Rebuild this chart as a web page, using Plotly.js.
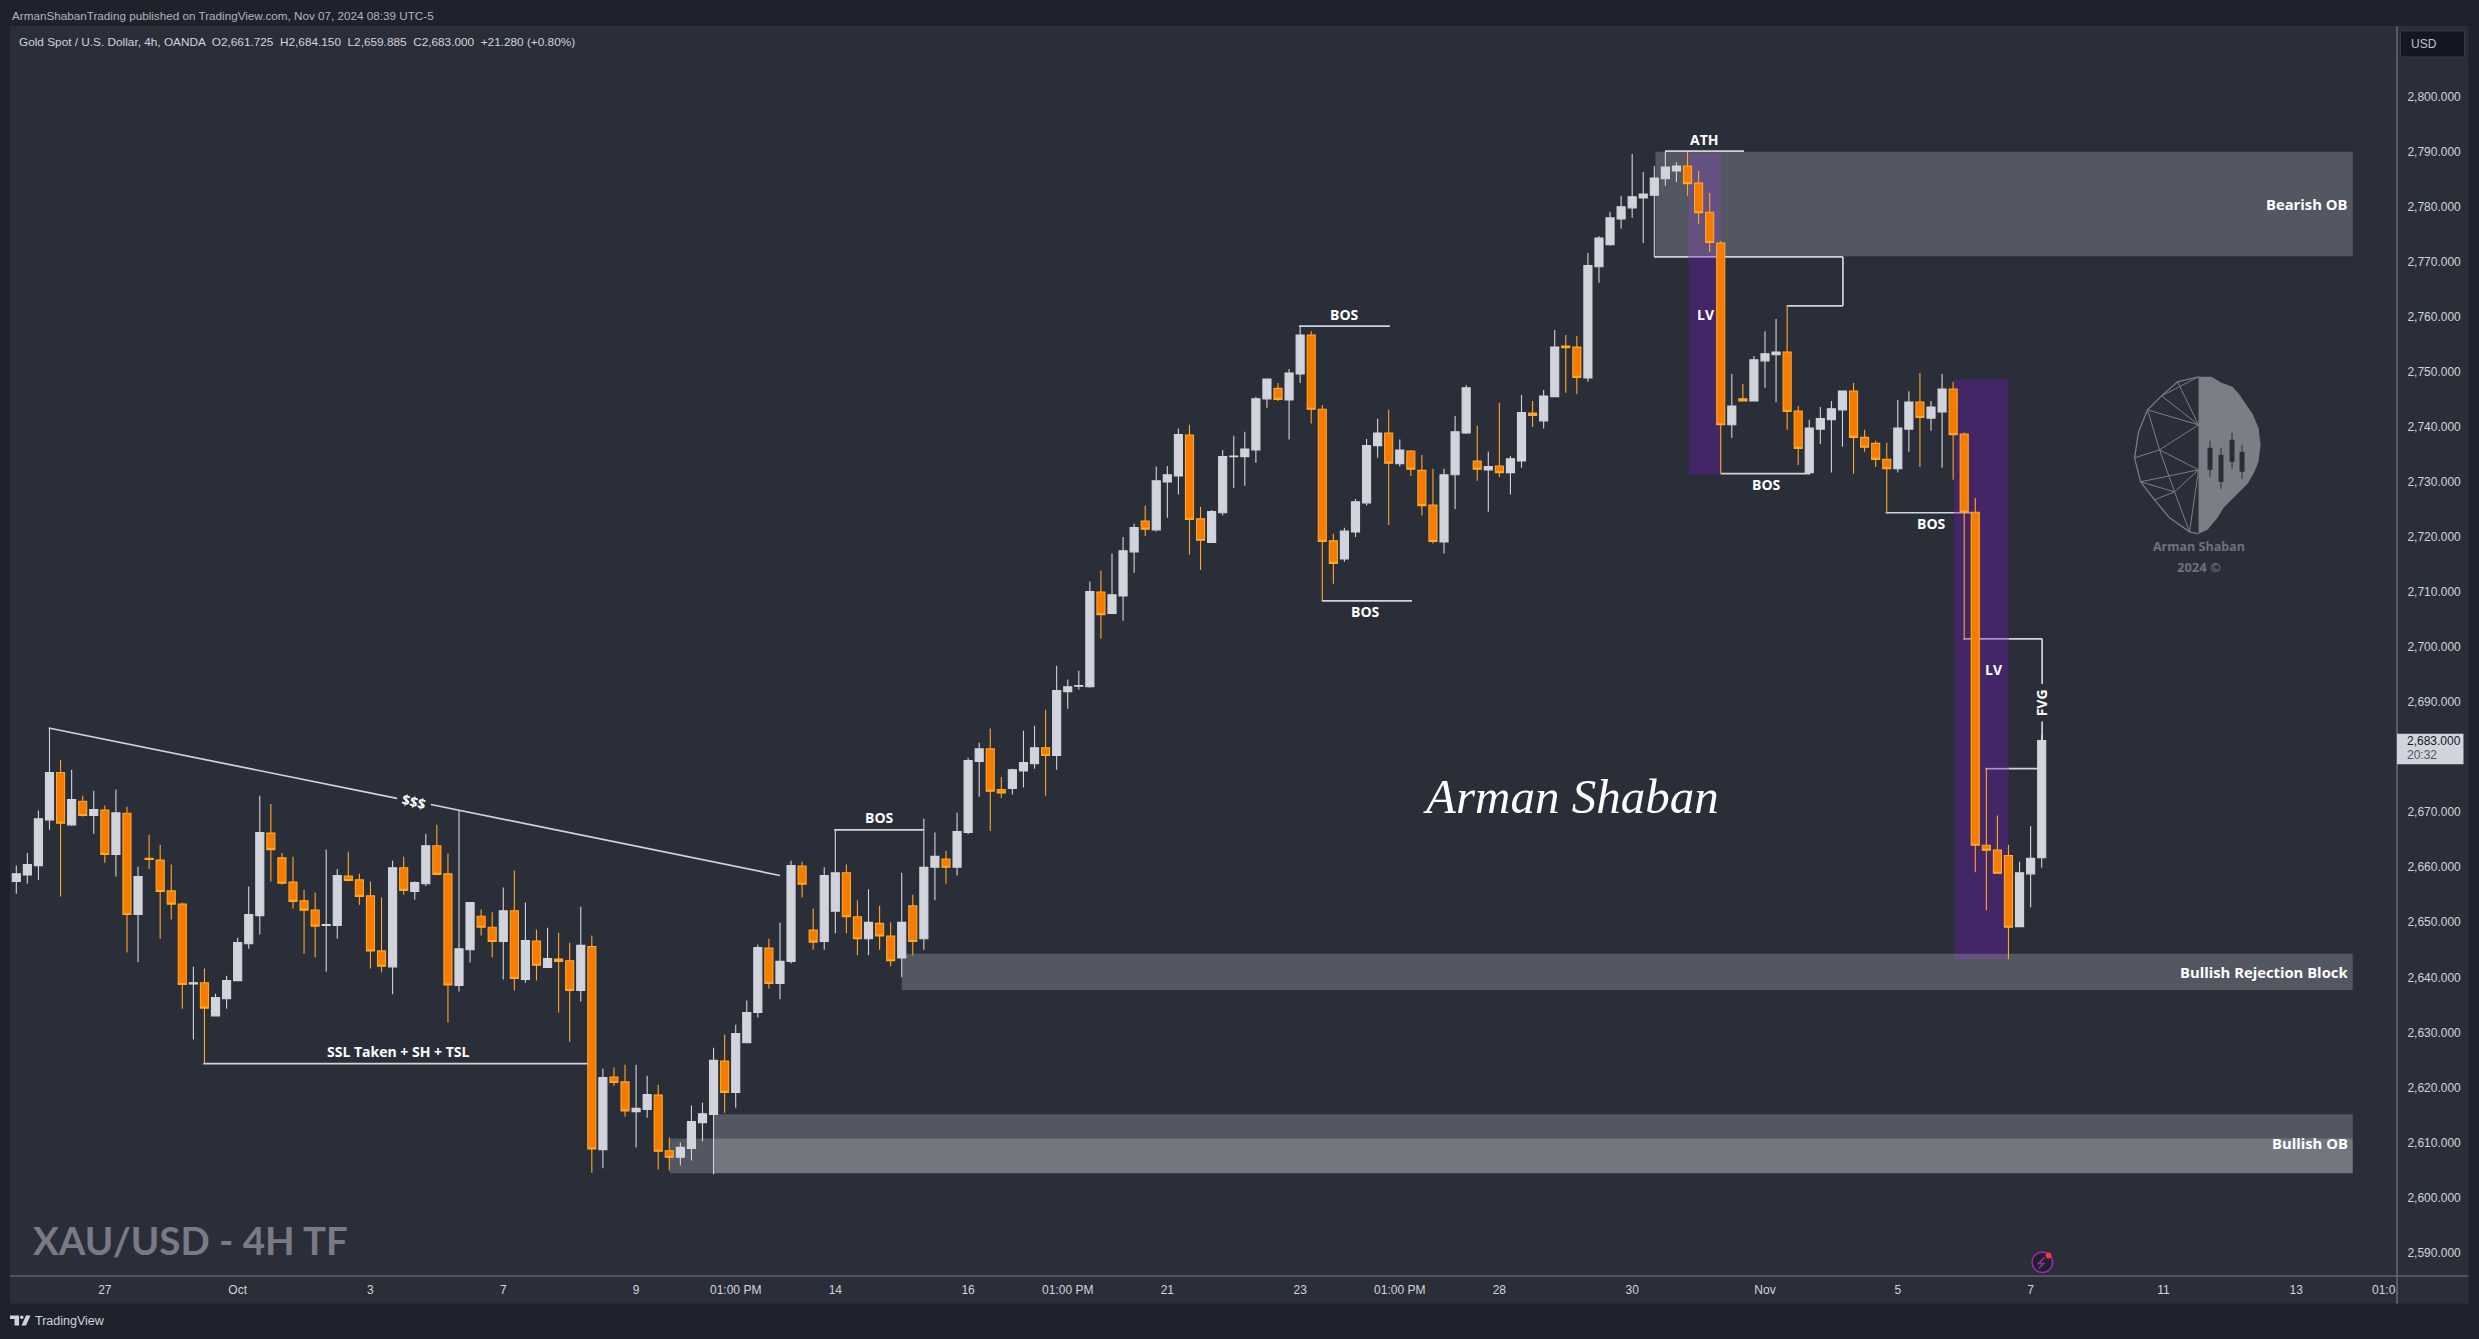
<!DOCTYPE html>
<html>
<head>
<meta charset="utf-8">
<script src="https://cdn.plot.ly/plotly-3.0.1.min.js"></script>
<style>html,body{margin:0;padding:0;background:#1e222d;overflow:hidden}#c{width:2479px;height:1339px}</style>
</head>
<body>
<div id="c"></div>
<script>
// ---- chart values (USD per ounce, one candle every 4h) ----
const open = [2657.4,2658.6,2660.3,2668.6,2677.2,2667.7,2672.0,2669.4,2670.4,2662.3,2669.8,2651.4,2661.6,2661.3,2655.7,2653.3,2638.8,2639.0,2633.0,2636.1,
2639.4,2646.1,2651.2,2666.2,2661.7,2657.3,2653.9,2652.2,2649.4,2649.4,2658.4,2657.7,2654.8,2644.8,2641.9,2659.9,2655.6,2657.0,2663.9,2658.8,
2638.5,2645.0,2651.1,2649.1,2646.5,2652.1,2639.6,2646.6,2641.8,2643.3,2643.0,2637.6,2645.6,2608.7,2621.9,2621.0,2615.6,2616.0,2618.6,2608.5,
2607.3,2608.9,2613.6,2615.1,2624.8,2619.1,2628.1,2633.6,2645.3,2638.9,2642.9,2660.2,2648.6,2646.5,2652.0,2659.0,2651.0,2647.0,2649.8,2647.5,
2643.5,2653.0,2647.0,2660.0,2661.5,2660.0,2666.3,2679.2,2681.5,2674.1,2674.3,2677.5,2678.8,2681.7,2680.3,2691.9,2692.9,2692.8,2710.0,2706.1,
2709.3,2717.3,2722.9,2721.3,2730.0,2731.1,2738.5,2723.3,2719.0,2724.4,2734.6,2734.6,2735.8,2745.1,2747.0,2744.9,2749.6,2756.7,2743.2,2719.3,
2716.0,2720.9,2726.2,2736.6,2738.9,2733.3,2735.6,2732.1,2725.8,2719.1,2731.3,2738.9,2733.8,2732.2,2732.9,2731.7,2733.8,2742.5,2741.1,2745.5,
2754.7,2754.5,2748.9,2769.1,2773.1,2777.8,2779.8,2781.6,2782.1,2785.1,2786.5,2787.4,2784.3,2779.0,2773.4,2740.4,2745.1,2744.7,2752.0,2753.1,
2753.6,2742.9,2731.7,2739.6,2741.3,2743.1,2746.5,2738.1,2737.0,2734.1,2732.4,2739.6,2744.5,2741.6,2742.7,2746.9,2738.7,2724.5,2664.0,2663.1,
2662.1,2649.2,2658.8,2661.725];
const high = [2660.3,2662.6,2670.3,2685.3,2679.5,2677.7,2673.0,2673.9,2671.2,2674.1,2671.0,2660.1,2665.9,2664.1,2660.5,2653.6,2641.9,2641.6,2637.0,2640.3,
2647.2,2656.5,2673.0,2671.5,2662.6,2661.9,2655.9,2655.4,2663.2,2659.7,2662.8,2658.8,2657.4,2654.5,2661.2,2661.9,2657.4,2666.1,2667.7,2662.5,
2670.2,2653.7,2652.3,2651.8,2656.3,2659.4,2653.6,2648.7,2649.0,2648.1,2646.3,2652.8,2647.6,2623.4,2623.6,2624.1,2624.1,2622.1,2620.5,2610.9,
2610.0,2616.7,2617.2,2627.2,2629.6,2631.4,2635.8,2645.9,2647.0,2649.9,2661.2,2661.0,2652.5,2660.0,2666.8,2660.5,2654.0,2656.0,2653.0,2650.0,
2659.0,2655.0,2668.8,2666.3,2663.0,2669.9,2679.9,2682.6,2685.2,2676.4,2677.9,2684.8,2685.7,2688.6,2696.6,2694.1,2695.7,2711.9,2713.9,2717.0,
2720.0,2722.4,2725.7,2732.8,2732.9,2739.7,2740.4,2725.5,2724.9,2735.8,2738.4,2739.1,2745.5,2748.7,2748.0,2750.5,2758.2,2757.4,2744.0,2720.6,
2721.7,2726.9,2737.8,2741.5,2743.1,2737.7,2735.8,2734.9,2732.4,2732.4,2742.0,2747.6,2740.2,2735.5,2744.4,2734.7,2745.8,2744.7,2746.7,2757.6,
2756.7,2756.5,2771.6,2774.7,2779.1,2782.0,2789.6,2786.3,2787.4,2790.0,2788.1,2790.0,2786.5,2782.5,2773.8,2749.6,2747.8,2752.9,2757.4,2759.6,
2762.0,2743.8,2741.3,2743.6,2744.7,2746.5,2748.0,2739.5,2737.5,2737.1,2744.9,2746.5,2749.8,2744.7,2749.6,2748.2,2739.0,2727.1,2677.9,2669.4,
2664.1,2661.0,2667.5,2684.15];
const low = [2655.2,2657.0,2657.7,2666.8,2654.7,2667.5,2669.2,2666.1,2660.8,2658.3,2644.5,2642.8,2659.7,2647.0,2650.5,2634.3,2628.7,2624.4,2633.0,2634.3,
2639.4,2645.2,2647.8,2657.4,2656.8,2652.5,2644.3,2643.6,2641.0,2647.0,2657.4,2653.2,2641.6,2640.9,2636.9,2655.0,2654.1,2656.6,2658.7,2631.8,
2637.4,2642.7,2647.6,2643.6,2639.6,2637.6,2639.0,2639.4,2641.8,2633.6,2628.3,2635.6,2604.5,2605.3,2620.3,2614.7,2609.1,2614.5,2605.1,2604.9,
2605.8,2606.7,2610.2,2604.2,2615.4,2616.3,2628.0,2632.7,2637.9,2636.0,2642.5,2654.5,2645.0,2645.0,2648.0,2648.0,2644.0,2644.0,2645.0,2642.0,
2640.0,2644.0,2645.0,2654.0,2657.0,2658.5,2666.0,2672.8,2666.6,2672.6,2673.2,2674.5,2677.9,2673.0,2677.7,2688.8,2692.3,2692.6,2701.5,2706.1,
2704.8,2713.5,2720.2,2721.0,2723.5,2727.7,2716.8,2714.0,2719.0,2723.9,2728.9,2729.3,2733.5,2743.5,2744.7,2737.7,2748.0,2740.6,2708.4,2711.5,
2715.5,2720.0,2725.7,2734.4,2722.2,2732.8,2731.1,2723.9,2718.8,2717.0,2725.1,2738.7,2730.2,2724.6,2730.9,2727.7,2732.6,2740.0,2739.7,2745.5,
2746.2,2746.0,2748.2,2766.2,2772.9,2776.0,2778.0,2773.4,2770.9,2783.8,2784.5,2782.0,2776.9,2771.8,2731.6,2738.0,2744.7,2744.7,2747.1,2744.5,
2739.5,2733.1,2731.7,2736.9,2731.7,2736.4,2731.5,2735.5,2732.7,2724.3,2731.7,2735.5,2732.7,2739.3,2732.6,2730.4,2701.3,2659.1,2652.2,2658.9,
2643.3,2649.2,2652.7,2659.885];
const close = [2658.8,2660.5,2668.8,2677.2,2668.0,2672.3,2669.4,2670.5,2662.3,2669.9,2651.4,2658.3,2661.4,2655.6,2653.3,2638.7,2639.0,2634.4,2636.3,2639.4,
2646.3,2651.4,2666.3,2663.2,2657.1,2653.8,2652.2,2649.3,2649.6,2658.5,2657.6,2654.7,2644.8,2642.0,2659.9,2655.8,2657.2,2663.9,2658.7,2638.6,
2645.2,2653.6,2649.1,2646.5,2652.1,2639.8,2646.7,2642.2,2643.4,2642.9,2637.6,2645.8,2608.8,2621.8,2620.9,2615.7,2616.2,2618.7,2608.4,2607.3,
2609.1,2613.8,2615.2,2624.9,2619.1,2629.8,2633.6,2645.4,2638.9,2642.9,2660.3,2656.9,2646.4,2658.5,2659.0,2651.0,2647.0,2650.0,2647.5,2643.0,
2650.0,2646.5,2660.0,2662.0,2660.0,2666.5,2679.4,2681.5,2673.8,2673.5,2677.7,2679.0,2681.7,2680.3,2692.1,2692.8,2693.0,2710.1,2705.9,2709.5,
2717.5,2721.7,2721.4,2730.2,2731.3,2738.6,2723.2,2719.4,2724.6,2734.6,2734.7,2736.0,2745.1,2748.7,2745.0,2749.8,2756.7,2743.2,2719.2,2715.2,
2721.1,2726.4,2736.6,2738.9,2733.4,2735.8,2732.3,2725.7,2719.2,2731.3,2739.1,2747.1,2732.3,2732.8,2731.7,2734.2,2742.6,2742.1,2745.6,2754.5,
2754.4,2749.0,2769.3,2774.3,2778.0,2780.0,2781.8,2782.3,2785.2,2787.2,2787.4,2784.2,2778.9,2773.5,2740.4,2743.8,2744.7,2752.2,2753.3,2753.6,
2742.8,2736.1,2739.8,2741.5,2743.3,2746.5,2738.1,2736.3,2734.1,2732.4,2739.8,2744.5,2741.7,2743.6,2746.9,2738.6,2724.5,2664.0,2663.1,2658.9,
2649.1,2659.0,2661.6,2683.0];
const candleIndex = open.map((_, i) => i);

const priceTicks = [2800,2790,2780,2770,2760,2750,2740,2730,2720,2710,2700,2690,2670,2660,2650,2640,2630,2620,2610,2600,2590];
const priceTickLabels = priceTicks.map(v => v.toLocaleString('en-US',{minimumFractionDigits:3}));
const timeTickIndex = [8,20,32,44,56,65,74,86,95,104,116,125,134,146,158,170,182,194,206,213.9];
const timeTickLabels = ['27','Oct','3','7','9','01:00 PM','14','16','01:00 PM','21','23','01:00 PM','28','30','Nov','5','7','11','13','01:0'];

// analyst drawings: [x0, price0, x1, price1]
const drawnLines = [
 [2.93,2685.3,34.4,2672.5],[37.46,2671.4,69,2658.5],
 [16.9,2624.3,51.7,2624.3],
 [73.9,2666.8,82,2666.8],[115.9,2758.3,124.1,2758.3],[117.95,2708.4,126.1,2708.4],
 [148.96,2790.1,156.1,2790.1],
 [147.97,2770.9,165.04,2770.9],[165.04,2770.9,165.04,2762],[165.04,2762,159.98,2762],
 [153.93,2731.5,162.1,2731.5],[168.9,2724.4,176.6,2724.4],
 [175.95,2701.5,183.04,2701.5],[183.04,2701.5,183.04,2693.3],[183.04,2686.5,183.04,2683],
 [177.9,2677.9,183,2677.9]
];
const purpleZones = [[151.1,2789.6,154,2731.3],[175.1,2748.7,180,2643.3]];
const tintedLines = [[151.1,2770.9,154,2770.9],[175.1,2724.4,176.6,2724.4],[175.95,2701.5,180,2701.5],[177.9,2677.9,180,2677.9]];
const grayZones = [[148.1,2790,211.1,2771],[80,2644.3,211.1,2637.7],[63.05,2615.1,211.1,2604.4],[59.05,2610.7,211.1,2604.4]];
const chartLabels = [
 ['BOS',78,2669],['BOS',120,2760.5],['BOS',121.9,2706.4],['ATH',152.5,2792.3],['BOS',158.1,2729.5],['BOS',173,2722.4],
 ['LV',152.7,2760.5],['LV',178.7,2696],['SSL Taken + SH + TSL',34.5,2626.5]
];
const zoneLabels = [['Bearish OB',210.9,2780.5],['Bullish Rejection Block',210.9,2641],['Bullish OB',210.9,2609.9]];

// ---- page geometry ----
const W=2479,H=1339,L=10,R=2397.5,T=26,B=1276.5;
const px=v=>(v-L)/(R-L), py=v=>1-(v-T)/(B-T);
const LINE='#d1d4dc', PANEL='#2a2e39', OUTER='#1e222d', AXIS='#787b86';

const shapes=[];
const rectPx=(x0,y0,x1,y1,fill,line,layer)=>shapes.push({type:'rect',xref:'paper',yref:'paper',x0:px(x0),x1:px(x1),y0:py(y0),y1:py(y1),fillcolor:fill,line:line||{width:0},layer:layer||'below'});
const linePx=(x0,y0,x1,y1,color,w,layer)=>shapes.push({type:'line',xref:'paper',yref:'paper',x0:px(x0),x1:px(x1),y0:py(y0),y1:py(y1),line:{color:color,width:w},layer:layer||'below'});
const pathPx=(pts,fill,color,w,layer,closed)=>shapes.push({type:'path',xref:'paper',yref:'paper',
  path:'M'+pts.map(p=>px(p[0])+' '+py(p[1])).join(' L')+(closed?' Z':''),fillcolor:fill||'rgba(0,0,0,0)',line:color?{color:color,width:w}:{width:0},layer:layer||'below'});
rectPx(L,T,2469,1304,PANEL);

drawnLines.forEach(l=>shapes.push({type:'line',xref:'x',yref:'y',x0:l[0],y0:l[1],x1:l[2],y1:l[3],line:{color:LINE,width:1.7},layer:'below'}));
purpleZones.forEach(z=>shapes.push({type:'rect',xref:'x',yref:'y',x0:z[0],y0:z[1],x1:z[2],y1:z[3],fillcolor:'#432666',line:{width:0},layer:'below'}));
tintedLines.forEach(l=>shapes.push({type:'line',xref:'x',yref:'y',x0:l[0],y0:l[1],x1:l[2],y1:l[3],line:{color:'rgba(190,160,225,0.85)',width:1.7},layer:'below'}));
grayZones.forEach(z=>shapes.push({type:'rect',xref:'x',yref:'y',x0:z[0],y0:z[1],x1:z[2],y1:z[3],fillcolor:'rgba(209,212,220,0.25)',line:{width:0},layer:'below'}));

// axis borders
linePx(R,T,R,1304,AXIS,1.2,'above');
linePx(L,B,2469,B,AXIS,1.2,'above');
// USD badge
rectPx(2401,31,2465,57,'#131722',{color:'#363a45',width:1},'above');
// last price tag
rectPx(R,734,2464,764.5,'#d1d4dc',{width:0},'above');
// event icon
shapes.push({type:'circle',xref:'paper',yref:'paper',x0:px(2032.5),x1:px(2053),y0:py(1252.5),y1:py(1273),line:{color:'#9c27b0',width:1.6},fillcolor:'#1e222d',layer:'above'});
pathPx([[2045,1258],[2039,1264],[2044,1264],[2039,1269]],null,'#9c27b0',1.6,'above');
shapes.push({type:'circle',xref:'paper',yref:'paper',x0:px(2046),x1:px(2052),y0:py(1253),y1:py(1259),line:{width:0},fillcolor:'#f23645',layer:'above'});
// TradingView mark
pathPx([[10,1316],[19,1316],[19,1326],[14.5,1326],[14.5,1319.5],[10,1319.5]],'#d1d4dc',null,0,'above',true);
shapes.push({type:'circle',xref:'paper',yref:'paper',x0:px(20),x1:px(23.5),y0:py(1316),y1:py(1319.5),line:{width:0},fillcolor:'#d1d4dc',layer:'above'});
pathPx([[26,1316],[30.5,1316],[26,1326],[21.5,1326]],'#d1d4dc',null,0,'above',true);
// brain logo: left wireframe, right solid
const BR='#7b7e87';
pathPx([[2199,377],[2212,377],[2222,383],[2233,387],[2240,395],[2246,404],[2253,414],[2259,428],[2261,445],[2259,462],[2254,474],[2248,484],[2240,492],[2232,500],[2224,508],[2218,518],[2208,530],[2199,534]],BR,null,0,'below',true);
pathPx([[2199,377],[2178,382],[2162,396],[2148,410],[2139,432],[2135,458],[2141,482],[2155,500],[2170,518],[2190,532],[2199,534]],null,BR,1.3);
[[[2199,377],[2162,396],[2199,425],[2148,410],[2160,450],[2135,458]],[[2199,425],[2160,450],[2199,470],[2141,482],[2175,492],[2199,470]],[[2175,492],[2155,500]],[[2175,492],[2190,532]],[[2178,382],[2199,425]],[[2160,450],[2175,492]],[[2199,470],[2190,532]]].forEach(p=>pathPx(p,null,BR,1));
[[2208,448,2213,470],[2219,455,2224,482],[2230,440,2235,462],[2240,452,2245,472]].forEach(c=>{rectPx(c[0],c[1],c[2],c[3],'#2a2e39');linePx((c[0]+c[2])/2,c[1]-7,(c[0]+c[2])/2,c[3]+7,'#2a2e39',1);});

const textPx=(t,x,y,o)=>Object.assign({text:t,xref:'paper',yref:'paper',x:px(x),y:py(y),showarrow:false,xanchor:'left',yanchor:'middle',font:{family:'Liberation Sans',size:12,color:'#d1d4dc'}},o||{});
const OS='Open Sans';
const annotations=[
 textPx('ArmanShabanTrading published on TradingView.com, Nov 07, 2024 08:39 UTC-5',10,15,{font:{family:'Liberation Sans',size:11.7,color:'#b2b5be'}}),
 textPx('Gold Spot / U.S. Dollar, 4h, OANDA  O2,661.725  H2,684.150  L2,659.885  C2,683.000  +21.280 (+0.80%)',17,42,{font:{family:'Liberation Sans',size:11.8,color:'#d1d4dc'}}),
 textPx('USD',2410,44,{font:{family:'Liberation Sans',size:12,color:'#c0c3cc'}}),
 textPx('2,683.000',2406,741,{font:{family:'Liberation Sans',size:12,color:'#131722'}}),
 textPx('20:32',2406,755.5,{font:{family:'Liberation Sans',size:12,color:'#50535e'}}),
 textPx('XAU/USD - 4H TF',31,1240,{font:{family:'Lato',size:38.5,weight:700,color:'#787b86'}}),
 textPx('TradingView',33,1322,{font:{family:'Liberation Sans',size:12.5,color:'#d1d4dc'}}),
 textPx('Arman Shaban',1421,797,{font:{family:'Liberation Serif',size:49,style:'italic',color:'#ffffff'}}),
 textPx('Arman Shaban',2199,547,{xanchor:'center',font:{family:OS,size:12.5,weight:700,color:'#6f727c'}}),
 textPx('2024 ©',2199,567,{xanchor:'center',font:{family:OS,size:13,weight:700,color:'#6f727c'}}),
 {text:'$$$',xref:'x',yref:'y',x:35.9,y:2672,showarrow:false,textangle:13.6,font:{family:OS,size:14,weight:700,color:'#fff'}},
 {text:'FVG',xref:'x',yref:'y',x:183,y:2689.9,showarrow:false,textangle:-90,font:{family:OS,size:14,weight:700,color:'#fff'}}
];
chartLabels.forEach(a=>annotations.push({text:a[0],xref:'x',yref:'y',x:a[1],y:a[2],showarrow:false,font:{family:OS,size:14,weight:700,color:'#fff'}}));
zoneLabels.forEach(a=>annotations.push({text:a[0],xref:'x',yref:'y',x:a[1],y:a[2],xanchor:'right',showarrow:false,font:{family:OS,size:14.8,weight:700,color:'#fff'}}));

const trace={type:'candlestick',x:candleIndex,open:open,high:high,low:low,close:close,whiskerwidth:0,hoverinfo:'skip',
 increasing:{line:{color:'#d1d4dc',width:1.1},fillcolor:'#d1d4dc'},
 decreasing:{line:{color:'#ffa726',width:1.1},fillcolor:'#f57c00'}};

const layout={width:W,height:H,margin:{l:L,r:W-R,t:T,b:H-B,pad:0},paper_bgcolor:OUTER,plot_bgcolor:PANEL,showlegend:false,boxgap:0.27,boxgroupgap:0,
 hovermode:false,dragmode:false,shapes:shapes,annotations:annotations,
 xaxis:{type:'linear',range:[(L-16.3)/11.07,(R-16.3)/11.07],fixedrange:true,rangeslider:{visible:false},showgrid:false,zeroline:false,showline:false,
  tickmode:'array',tickvals:timeTickIndex,ticktext:timeTickLabels,ticks:'outside',ticklen:2.5,tickcolor:'rgba(0,0,0,0)',tickfont:{family:'Liberation Sans',size:12,color:'#d1d4dc'}},
 yaxis:{type:'linear',side:'right',range:[2590-(B-1253)/5.506,2800+(96.7-T)/5.506],fixedrange:true,showgrid:false,zeroline:false,showline:false,
  tickmode:'array',tickvals:priceTicks,ticktext:priceTickLabels,ticks:'outside',ticklen:7,tickcolor:'rgba(0,0,0,0)',tickfont:{family:'Liberation Sans',size:12,color:'#d1d4dc'}}
};
Plotly.newPlot('c',[trace],layout,{displayModeBar:false,staticPlot:true,responsive:false});
</script>
</body>
</html>
